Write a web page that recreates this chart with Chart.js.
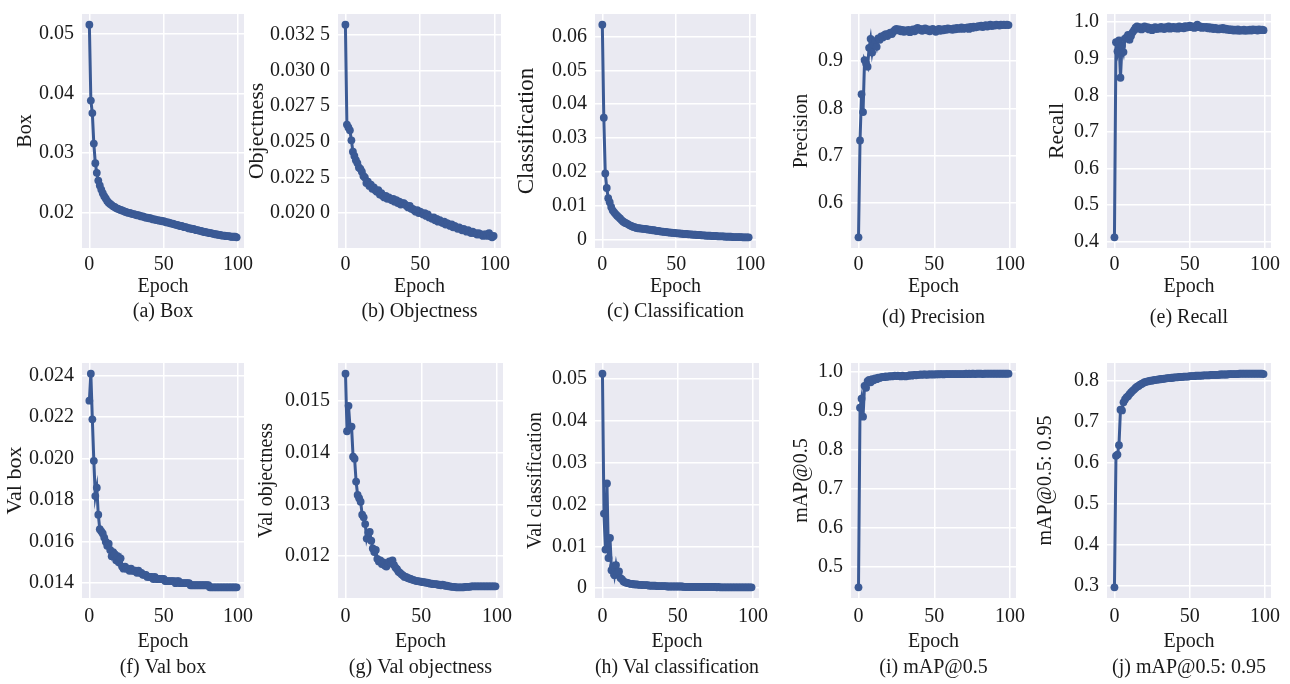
<!DOCTYPE html>
<html><head><meta charset="utf-8">
<script src="https://cdn.jsdelivr.net/npm/chart.js@4.4.0/dist/chart.umd.min.js"></script>
<style>
html,body{margin:0;padding:0;background:#fff;width:1290px;height:684px;overflow:hidden;position:relative}
canvas{position:absolute}
</style></head><body>
<script>
// ---------- data ----------
const epochs = Array.from({length: 100}, (_, i) => i);

const boxLoss = [
 0.0515,0.0388,0.0367,0.0316,0.0283,0.0267,0.0254,0.0246,0.0239,0.0233,
 0.0228,0.0224,0.0220,0.0217,0.0215,0.0213,0.0211,0.0210,0.0208,0.0207,
 0.0206,0.0205,0.0204,0.0203,0.0202,0.0201,0.0200,0.0200,0.0199,0.0198,
 0.0198,0.0197,0.0196,0.0196,0.0195,0.0194,0.0194,0.0193,0.0192,0.0192,
 0.0191,0.0191,0.0190,0.0189,0.0189,0.0188,0.0188,0.0187,0.0187,0.0186,
 0.0186,0.0185,0.0184,0.0184,0.0183,0.0182,0.0182,0.0181,0.0180,0.0180,
 0.0179,0.0178,0.0178,0.0177,0.0176,0.0176,0.0175,0.0174,0.0174,0.0173,
 0.0173,0.0172,0.0171,0.0171,0.0170,0.0170,0.0169,0.0168,0.0168,0.0167,
 0.0167,0.0166,0.0166,0.0165,0.0165,0.0164,0.0164,0.0163,0.0163,0.0162,
 0.0162,0.0162,0.0161,0.0161,0.0161,0.0160,0.0160,0.0160,0.0160,0.0159];

const objLoss = [
 0.0332,0.0262,0.0260,0.0258,0.0251,0.0243,0.0240,0.0237,0.0235,0.0232,
 0.0231,0.0229,0.0226,0.0225,0.0221,0.0222,0.0219,0.0220,0.0217,0.0218,
 0.0216,0.0215,0.0216,0.0213,0.0214,0.0212,0.0211,0.0212,0.0210,0.0211,
 0.0210,0.0209,0.0210,0.0208,0.0209,0.0207,0.0208,0.0206,0.0207,0.0207,
 0.0206,0.0205,0.0204,0.0205,0.0203,0.0203,0.0202,0.0201,0.0202,0.0200,
 0.0201,0.0200,0.0199,0.0200,0.0198,0.0199,0.0197,0.0197,0.0196,0.0197,
 0.0195,0.0196,0.0194,0.0195,0.0194,0.0193,0.0194,0.0192,0.0193,0.0192,
 0.0191,0.0192,0.0190,0.0191,0.0190,0.0189,0.0190,0.0189,0.0188,0.0189,
 0.0188,0.0187,0.0188,0.0187,0.0186,0.0187,0.0186,0.0186,0.0185,0.0186,
 0.0185,0.0185,0.0184,0.0185,0.0185,0.0184,0.0186,0.0184,0.0183,0.0184];

const clsLoss = [
 0.0635,0.0360,0.0195,0.0152,0.0122,0.0110,0.0096,0.0086,0.0080,0.0075,
 0.0070,0.0066,0.0062,0.0057,0.0053,0.0050,0.0048,0.0046,0.0043,0.0041,
 0.0039,0.0037,0.0036,0.0034,0.0033,0.0033,0.0032,0.0032,0.0031,0.0031,
 0.0030,0.0029,0.0029,0.0028,0.0027,0.0027,0.0026,0.0025,0.0025,0.0024,
 0.0023,0.0023,0.0022,0.0022,0.0021,0.0021,0.0020,0.0020,0.0019,0.0019,
 0.0018,0.0018,0.0018,0.0017,0.0017,0.0016,0.0016,0.0016,0.0015,0.0015,
 0.0015,0.0014,0.0014,0.0014,0.0013,0.0013,0.0013,0.0012,0.0012,0.0012,
 0.0011,0.0011,0.0011,0.0011,0.0010,0.0010,0.0010,0.0010,0.0009,0.0009,
 0.0009,0.0009,0.0009,0.0008,0.0008,0.0008,0.0008,0.0008,0.0007,0.0007,
 0.0007,0.0007,0.0007,0.0007,0.0007,0.0006,0.0006,0.0006,0.0006,0.0006];

const precision = [
 0.527,0.732,0.830,0.792,0.902,0.895,0.888,0.928,0.947,0.918,
 0.935,0.942,0.930,0.948,0.945,0.952,0.950,0.955,0.957,0.953,
 0.958,0.960,0.957,0.962,0.966,0.968,0.965,0.967,0.963,0.966,
 0.962,0.965,0.963,0.966,0.961,0.964,0.967,0.963,0.968,0.970,
 0.966,0.968,0.964,0.967,0.969,0.965,0.967,0.963,0.966,0.968,
 0.965,0.962,0.966,0.968,0.964,0.967,0.965,0.968,0.966,0.969,
 0.967,0.968,0.966,0.969,0.967,0.970,0.968,0.969,0.971,0.968,
 0.970,0.969,0.971,0.968,0.972,0.970,0.973,0.971,0.972,0.974,
 0.973,0.975,0.972,0.974,0.976,0.973,0.975,0.977,0.974,0.976,
 0.975,0.977,0.976,0.975,0.977,0.976,0.977,0.976,0.977,0.976];

const recall = [
 0.412,0.945,0.920,0.950,0.848,0.935,0.918,0.955,0.958,0.965,
 0.952,0.962,0.972,0.978,0.985,0.988,0.982,0.986,0.980,0.984,
 0.988,0.983,0.986,0.980,0.984,0.978,0.983,0.986,0.981,0.985,
 0.982,0.987,0.984,0.981,0.986,0.983,0.988,0.982,0.985,0.987,
 0.983,0.986,0.982,0.988,0.984,0.987,0.983,0.989,0.985,0.988,
 0.990,0.986,0.988,0.984,0.987,0.993,0.986,0.988,0.984,0.987,
 0.985,0.987,0.983,0.986,0.982,0.985,0.981,0.984,0.982,0.980,
 0.983,0.981,0.984,0.980,0.982,0.979,0.981,0.978,0.980,0.977,
 0.979,0.977,0.980,0.976,0.978,0.977,0.979,0.976,0.978,0.977,
 0.979,0.977,0.980,0.978,0.979,0.977,0.980,0.978,0.979,0.978];

const valBox = [
 0.0228,0.0241,0.0219,0.0199,0.0182,0.0186,0.0173,0.0166,0.0165,0.0164,
 0.0162,0.0160,0.0158,0.0159,0.0156,0.0153,0.0155,0.0154,0.0151,0.0153,
 0.0150,0.0152,0.0148,0.0147,0.0148,0.0147,0.0147,0.0146,0.0147,0.0146,
 0.0146,0.0146,0.0145,0.0146,0.0145,0.0145,0.0144,0.0144,0.0144,0.0143,
 0.0143,0.0143,0.0143,0.0142,0.0143,0.0142,0.0142,0.0142,0.0142,0.0142,
 0.0142,0.0141,0.0141,0.0141,0.0141,0.0141,0.0141,0.0141,0.0140,0.0141,
 0.0141,0.0140,0.0140,0.0140,0.0140,0.0140,0.0140,0.0140,0.0139,0.0139,
 0.0139,0.0139,0.0139,0.0139,0.0139,0.0139,0.0139,0.0139,0.0139,0.0139,
 0.0139,0.0138,0.0138,0.0138,0.0138,0.0138,0.0138,0.0138,0.0138,0.0138,
 0.0138,0.0138,0.0138,0.0138,0.0138,0.0138,0.0138,0.0138,0.0138,0.0138];

const valObj = [
 0.01552,0.01441,0.01490,0.01448,0.01450,0.01392,0.01388,0.01344,0.01318,0.01312,
 0.01305,0.01280,0.01275,0.01262,0.01234,0.01245,0.01247,0.01230,0.01215,0.01208,
 0.01212,0.01195,0.01190,0.01192,0.01185,0.01188,0.01182,0.01180,0.01185,0.01190,
 0.01188,0.01192,0.01183,0.01178,0.01175,0.01170,0.01168,0.01165,0.01163,0.01160,
 0.01160,0.01158,0.01157,0.01156,0.01155,0.01154,0.01153,0.01152,0.01152,0.01151,
 0.01151,0.01150,0.01150,0.01149,0.01149,0.01148,0.01147,0.01147,0.01146,0.01146,
 0.01146,0.01145,0.01145,0.01144,0.01145,0.01144,0.01143,0.01143,0.01142,0.01142,
 0.01141,0.01141,0.01141,0.01140,0.01140,0.01140,0.01140,0.01140,0.01140,0.01141,
 0.01141,0.01141,0.01141,0.01142,0.01142,0.01142,0.01142,0.01142,0.01142,0.01142,
 0.01142,0.01142,0.01142,0.01142,0.01142,0.01142,0.01142,0.01142,0.01142,0.01142];

const valCls = [
 0.0512,0.0178,0.0092,0.0250,0.0072,0.0120,0.0043,0.0052,0.0031,0.0055,
 0.0034,0.0040,0.0024,0.0021,0.0016,0.0014,0.0013,0.0012,0.0011,0.0010,
 0.0010,0.0009,0.0009,0.0009,0.0008,0.0008,0.0008,0.0007,0.0007,0.0007,
 0.0007,0.0006,0.0006,0.0006,0.0006,0.0006,0.0005,0.0005,0.0005,0.0005,
 0.0005,0.0005,0.0005,0.0004,0.0004,0.0004,0.0004,0.0004,0.0004,0.0004,
 0.0004,0.0004,0.0004,0.0004,0.0003,0.0003,0.0003,0.0003,0.0003,0.0003,
 0.0003,0.0003,0.0003,0.0003,0.0003,0.0003,0.0003,0.0003,0.0003,0.0003,
 0.0003,0.0003,0.0003,0.0003,0.0003,0.0003,0.0002,0.0003,0.0002,0.0002,
 0.0002,0.0002,0.0002,0.0002,0.0002,0.0002,0.0002,0.0002,0.0002,0.0002,
 0.0002,0.0002,0.0002,0.0002,0.0002,0.0002,0.0002,0.0002,0.0002,0.0002];

const map50 = [
 0.447,0.907,0.930,0.884,0.963,0.958,0.975,0.978,0.972,0.980,
 0.977,0.982,0.980,0.984,0.983,0.985,0.986,0.985,0.987,0.986,
 0.987,0.988,0.987,0.988,0.989,0.988,0.989,0.988,0.987,0.989,
 0.988,0.987,0.988,0.989,0.990,0.989,0.990,0.991,0.990,0.991,
 0.991,0.992,0.991,0.992,0.992,0.991,0.992,0.992,0.992,0.992,
 0.992,0.992,0.993,0.992,0.993,0.993,0.992,0.993,0.993,0.993,
 0.993,0.993,0.993,0.993,0.993,0.993,0.993,0.993,0.993,0.993,
 0.993,0.994,0.993,0.994,0.993,0.994,0.994,0.993,0.994,0.994,
 0.994,0.994,0.993,0.994,0.994,0.994,0.994,0.994,0.994,0.994,
 0.994,0.994,0.994,0.994,0.994,0.994,0.994,0.994,0.994,0.994];

const map5095 = [
 0.295,0.617,0.620,0.643,0.730,0.728,0.748,0.755,0.760,0.763,
 0.768,0.772,0.776,0.779,0.783,0.786,0.788,0.791,0.793,0.795,
 0.797,0.798,0.799,0.800,0.801,0.801,0.802,0.803,0.803,0.804,
 0.804,0.805,0.805,0.806,0.806,0.807,0.807,0.807,0.808,0.808,
 0.809,0.809,0.809,0.810,0.810,0.810,0.811,0.811,0.811,0.811,
 0.812,0.812,0.812,0.812,0.813,0.813,0.813,0.813,0.813,0.814,
 0.814,0.814,0.814,0.814,0.815,0.815,0.815,0.815,0.815,0.815,
 0.816,0.816,0.816,0.816,0.816,0.816,0.817,0.817,0.817,0.817,
 0.817,0.817,0.817,0.818,0.818,0.818,0.818,0.818,0.818,0.818,
 0.818,0.818,0.818,0.818,0.818,0.818,0.818,0.818,0.818,0.817];

// tick values and labels
const xTickValues = [0, 50, 100];
const xTickLabels = ['0', '50', '100'];
const boxTicks = [0.02, 0.03, 0.04, 0.05];
const boxTickLabels = ['0.02', '0.03', '0.04', '0.05'];
const objTicks = [0.02, 0.0225, 0.025, 0.0275, 0.03, 0.0325];
const objTickLabels = ['0.020 0', '0.022 5', '0.025 0', '0.027 5', '0.030 0', '0.032 5'];
const clsTicks = [0, 0.01, 0.02, 0.03, 0.04, 0.05, 0.06];
const clsTickLabels = ['0', '0.01', '0.02', '0.03', '0.04', '0.05', '0.06'];
const precTicks = [0.6, 0.7, 0.8, 0.9];
const precTickLabels = ['0.6', '0.7', '0.8', '0.9'];
const recTicks = [0.4, 0.5, 0.6, 0.7, 0.8, 0.9, 1.0];
const recTickLabels = ['0.4', '0.5', '0.6', '0.7', '0.8', '0.9', '1.0'];
const vboxTicks = [0.014, 0.016, 0.018, 0.020, 0.022, 0.024];
const vboxTickLabels = ['0.014', '0.016', '0.018', '0.020', '0.022', '0.024'];
const vobjTicks = [0.012, 0.013, 0.014, 0.015];
const vobjTickLabels = ['0.012', '0.013', '0.014', '0.015'];
const vclsTicks = [0, 0.01, 0.02, 0.03, 0.04, 0.05];
const vclsTickLabels = ['0', '0.01', '0.02', '0.03', '0.04', '0.05'];
const m50Ticks = [0.5, 0.6, 0.7, 0.8, 0.9, 1.0];
const m50TickLabels = ['0.5', '0.6', '0.7', '0.8', '0.9', '1.0'];
const m5095Ticks = [0.3, 0.4, 0.5, 0.6, 0.7, 0.8];
const m5095TickLabels = ['0.3', '0.4', '0.5', '0.6', '0.7', '0.8'];

const yLabels = ['Box', 'Objectness', 'Classification', 'Precision', 'Recall',
                 'Val box', 'Val objectness', 'Val classification', 'mAP@0.5', 'mAP@0.5: 0.95'];
const captions = ['(a) Box', '(b) Objectness', '(c) Classification', '(d) Precision', '(e) Recall',
                  '(f) Val box', '(g) Val objectness', '(h) Val classification', '(i) mAP@0.5', '(j) mAP@0.5: 0.95'];

// ---------- layout (page pixels) ----------
const frames = [
 {pl:82,  pr:244,  pt:8,   pb:248, tx:26,   ts:20, tickY:265, ey:287, cy:312},
 {pl:338, pr:501,  pt:8,   pb:248, tx:257,  ts:22, tickY:265, ey:287, cy:312},
 {pl:595, pr:756,  pt:8,   pb:248, tx:527,  ts:23, tickY:265, ey:287, cy:312},
 {pl:851, pr:1016, pt:8,   pb:248, tx:802,  ts:20, tickY:265, ey:287, cy:318},
 {pl:1107,pr:1271, pt:8,   pb:248, tx:1057, ts:22, tickY:265, ey:287, cy:318},
 {pl:82,  pr:244,  pt:357, pb:598, tx:15,   ts:22, tickY:617, ey:642, cy:668},
 {pl:338, pr:503,  pt:357, pb:598, tx:267,  ts:20, tickY:617, ey:642, cy:668},
 {pl:595, pr:759,  pt:357, pb:598, tx:536,  ts:20, tickY:617, ey:642, cy:668},
 {pl:851, pr:1016, pt:357, pb:598, tx:802,  ts:20, tickY:617, ey:642, cy:668},
 {pl:1107,pr:1271, pt:357, pb:598, tx:1046, ts:20, tickY:617, ey:642, cy:668}
];

const series = [boxLoss, objLoss, clsLoss, precision, recall, valBox, valObj, valCls, map50, map5095];
const yTicks = [boxTicks, objTicks, clsTicks, precTicks, recTicks, vboxTicks, vobjTicks, vclsTicks, m50Ticks, m5095Ticks];
const yTickLabels = [boxTickLabels, objTickLabels, clsTickLabels, precTickLabels, recTickLabels,
                     vboxTickLabels, vobjTickLabels, vclsTickLabels, m50TickLabels, m5095TickLabels];

const FONT = "'Liberation Serif', 'Times New Roman', serif";
const LINE = '#3b5a95';
const TEXT = '#1a1a1a';

const bgPlugin = {
  id: 'plotBg',
  beforeDraw(chart) {
    const {ctx, chartArea: a} = chart;
    ctx.save();
    ctx.fillStyle = '#eaeaf2';
    ctx.fillRect(a.left, a.top, a.right - a.left, a.bottom - a.top);
    ctx.restore();
  }
};

series.forEach((vals, k) => {
  const f = frames[k];
  const lh = f.ts * 1.2;
  const L = Math.round(f.tx - lh / 2 - 2);
  const padTop = 14, padRight = 26;
  const T = f.pt - padTop;
  const R = f.pr + padRight;
  const B = f.cy + 14;
  const cv = document.createElement('canvas');
  cv.width = R - L; cv.height = B - T;
  cv.style.left = L + 'px'; cv.style.top = T + 'px';
  cv.style.width = (R - L) + 'px'; cv.style.height = (B - T) + 'px';
  document.body.appendChild(cv);

  const mn = Math.min(...vals), mx = Math.max(...vals), rg = mx - mn;
  const capPadTop = f.cy - f.ey - 24;

  new Chart(cv, {
    type: 'line',
    data: {
      datasets: [{
        data: epochs.map((e, i) => ({x: e, y: vals[i]})),
        borderColor: LINE,
        backgroundColor: LINE,
        borderWidth: 3,
        pointRadius: 3.9,
        pointBorderWidth: 0,
        pointBackgroundColor: LINE,
        pointHoverRadius: 3.9,
        tension: 0,
        clip: false
      }]
    },
    plugins: [bgPlugin],
    options: {
      responsive: false,
      animation: false,
      events: [],
      devicePixelRatio: 1,
      layout: {autoPadding: false, padding: {left: 0, top: padTop, right: padRight, bottom: 0}},
      plugins: {
        legend: {display: false},
        tooltip: {enabled: false},
        title: {
          display: true, position: 'bottom', fullSize: false,
          text: captions[k], color: TEXT,
          font: {family: FONT, size: 20, weight: 'normal', lineHeight: 1.2},
          padding: {top: capPadTop, bottom: 2}
        }
      },
      scales: {
        x: {
          type: 'linear', position: 'bottom',
          min: -4.95, max: 103.95,
          afterBuildTicks: s => { s.ticks = xTickValues.map(v => ({value: v})); },
          afterFit: s => { s.height = f.ey + 12 - f.pb; },
          ticks: {
            autoSkip: false, maxRotation: 0, color: TEXT,
            padding: f.tickY - f.pb - 12,
            font: {family: FONT, size: 20, lineHeight: 1.2},
            callback: (v, i) => xTickLabels[i]
          },
          grid: {color: '#ffffff', lineWidth: 1.5, drawTicks: false},
          border: {display: false},
          title: {display: true, text: 'Epoch', color: TEXT,
                  font: {family: FONT, size: 20, lineHeight: 1.2}, padding: {top: 0, bottom: 0}}
        },
        y: {
          type: 'linear', position: 'left',
          min: mn - 0.05 * rg, max: mx + 0.05 * rg,
          afterBuildTicks: s => { s.ticks = yTicks[k].map(v => ({value: v})); },
          afterFit: s => { s.width = f.pl - L; },
          ticks: {
            autoSkip: false, color: TEXT, padding: 8,
            font: {family: FONT, size: 20, lineHeight: 1.2},
            callback: (v, i) => yTickLabels[k][i]
          },
          grid: {color: '#ffffff', lineWidth: 1.5, drawTicks: false},
          border: {display: false},
          title: {display: true, text: yLabels[k], color: TEXT,
                  font: {family: FONT, size: f.ts, lineHeight: 1.2}, padding: {top: 2, bottom: 0}}
        }
      }
    }
  });
});
</script>
</body></html>
